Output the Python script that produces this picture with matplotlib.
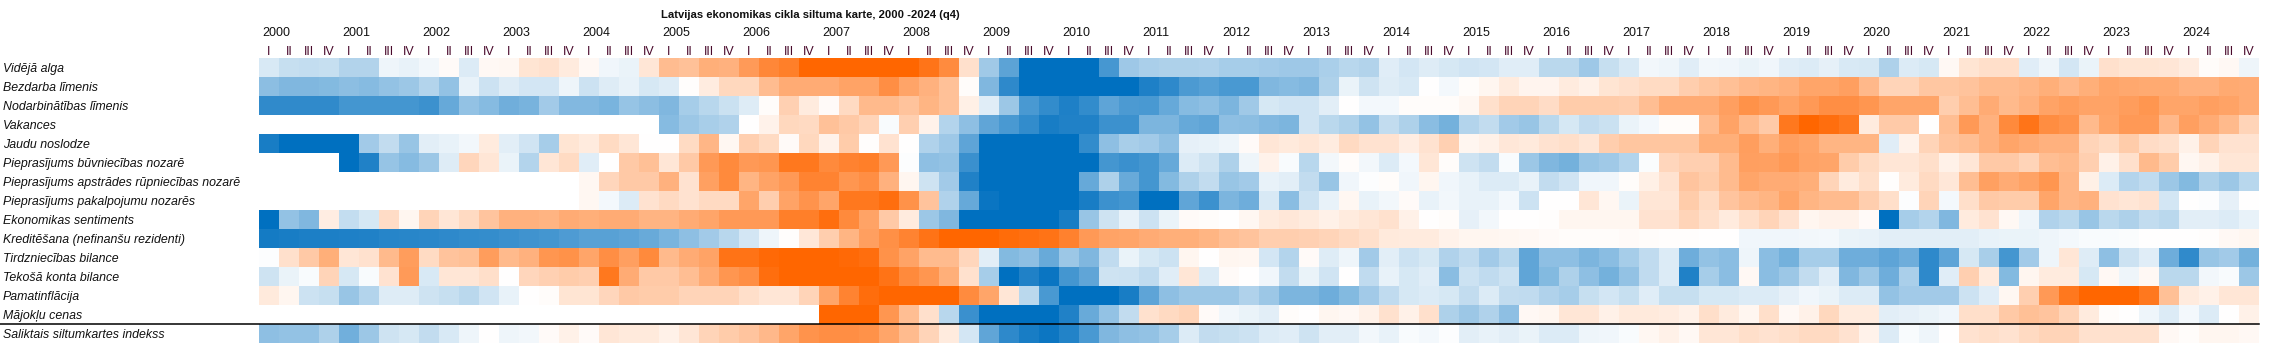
import numpy as np
import matplotlib
matplotlib.use("Agg")
import matplotlib.pyplot as plt
from matplotlib.colors import LinearSegmentedColormap
from matplotlib.lines import Line2D
from matplotlib import font_manager as fm

nan = np.nan

title = "Latvijas ekonomikas cikla siltuma karte, 2000 -2024 (q4)"
row_labels = [
    "Vidējā alga", "Bezdarba līmenis", "Nodarbinātības līmenis", "Vakances",
    "Jaudu noslodze", "Pieprasījums būvniecības nozarē",
    "Pieprasījums apstrādes rūpniecības nozarē", "Pieprasījums pakalpojumu nozarēs",
    "Ekonomikas sentiments", "Kreditēšana (nefinanšu rezidenti)",
    "Tirdzniecības bilance", "Tekošā konta bilance", "Pamatinflācija",
    "Mājokļu cenas", "Saliktais siltumkartes indekss",
]
years = list(range(2000, 2025))
quarters = ["I", "II", "III", "IV"]

# values on a -10 (cold) ... +10 (hot) scale, 2000Q1 ... 2024Q4
vid_alga = [-1.5, -2.2, -2.3, -2.2, -3.0, -3.0, -0.7, -0.9, -0.5, 0.3, -1.4, 0.4, 0.5, 1.7, 1.9, 1.3, 0.4,
            -0.6, -0.8, 1.6, 4.3, 4.0, 5.2, 5.0, 6.5, 7.8, 8.3, 10, 10, 10, 10, 10, 10, 9.0,
            7.5, 2.0, -3.7, -6.4, -10, -10, -10, -10, -7.2, -3.8, -3.3, -3.2, -3.2, -3.1, -3.5, -3.5, -3.6,
            -3.8, -3.8, -3.3, -2.8, -3.0, -1.2, -1.7, -1.3, -1.6, -1.8, -1.7, -1.2, -1.2, -2.7, -2.7, -3.8, -2.2,
            -1.5, -0.5, -0.7, -1.2, -0.5, -0.6, -0.8, -0.6, -1.2, -1.4, -1.0, -1.5, -1.6, -3.2, -1.4, -1.6, 0.4,
            1.7, 2.1, 2.1, -1.2, -0.7, -1.7, -0.8, 2.0, 1.7, 1.7, 1.6, 1.2, 0.2, 0.4, -0.7]
bezdarbs = [-4.5, -5.0, -5.0, -4.8, -4.5, -4.7, -4.2, -3.9, -2.9, -4.2, -0.9, -2.0, -1.3, -1.7, -1.7, -0.7, -2.0,
            -1.3, -0.9, -1.6, -1.3, 0.1, 1.2, 2.5, 2.5, 4.3, 5.4, 5.4, 5.4, 6.0, 6.0, 7.3, 5.9, 5.0,
            4.0, 0.2, -5.0, -8.2, -10, -10, -10, -10, -10, -10, -8.8, -8.2, -7.0, -6.6, -7.1, -7.1, -5.0,
            -4.7, -5.0, -3.2, -0.8, -1.9, -1.3, -1.5, 0.0, -0.4, 0.2, 0.6, 1.3, 0.7, 0.7, 1.3, 0.9, 1.7,
            2.0, 2.3, 2.3, 3.2, 3.7, 4.1, 4.6, 4.8, 5.1, 5.8, 5.8, 6.2, 4.6, 2.8, 2.8, 3.6, 3.6,
            3.9, 4.4, 4.4, 4.7, 5.2, 4.6, 5.2, 5.8, 5.7, 5.5, 5.5, 5.0, 5.0, 5.5, 5.4]
nodarb = [-8.1, -8.1, -8.1, -8.1, -7.3, -7.3, -7.3, -7.3, -7.6, -6.0, -4.2, -4.7, -5.6, -5.3, -3.6, -4.9, -4.9,
          -5.2, -4.1, -4.5, -5.0, -3.5, -2.8, -2.1, -1.3, 0.2, 3.0, 1.3, 0.3, 2.4, 4.5, 4.5, 3.9, 4.8,
          4.0, 1.0, -1.2, -3.9, -7.1, -8.0, -8.8, -8.0, -6.3, -7.0, -7.1, -6.0, -4.7, -4.4, -5.1, -3.7, -1.6,
          -1.8, -1.8, -1.1, 0.0, -0.4, -0.4, 0.2, 0.2, 0.2, 0.5, 2.0, 2.8, 2.8, 2.2, 3.3, 3.3, 3.3,
          3.2, 4.2, 5.4, 5.4, 5.4, 6.2, 7.1, 6.6, 6.0, 6.6, 7.3, 7.3, 6.8, 5.8, 5.8, 5.8, 3.2,
          4.2, 5.4, 4.5, 5.0, 6.0, 6.4, 6.0, 6.0, 6.4, 6.8, 5.8, 5.8, 6.2, 6.0, 5.4]
vakances = [nan] * 20 + [
          -4.7, -3.9, -3.4, -3.1, 0.0, 0.8, 2.5, 2.4, 4.0, 3.5, 2.8, -0.3, 3.1, 0.8,
          -2.9, -4.4, -6.2, -7.1, -8.0, -9.0, -8.7, -8.7, -7.6, -7.6, -5.1, -5.1, -6.0, -6.2, -4.4, -4.5, -4.9,
          -5.1, -1.8, -2.7, -3.2, -4.2, -2.4, -3.2, -4.6, -5.4, -2.9, -2.4, -3.6, -4.0, -2.7, -1.6, -2.4, -2.1,
          -0.8, -0.4, 0.2, 0.2, 4.3, 6.0, 4.5, 3.4, 8.8, 10, 9.4, 8.8, 1.3, 3.4, 3.4, 0.0, 4.2,
          6.6, 5.0, 7.6, 9.0, 7.4, 7.0, 4.5, 5.8, 6.6, 6.6, 4.6, 6.2, 5.4, 4.5, 2.8]
jaudu = [-9.0, -10, -10, -10, -10, -3.6, -2.4, -4.0, -1.1, -0.9, -0.5, 1.3, -1.1, -1.8, -3.5, 1.7, 1.3,
         2.3, 1.6, 0.0, 0.0, 2.3, 4.7, 0.5, 3.1, 2.3, 0.3, 2.5, 0.8, 3.3, 0.1, 1.8, 0.0, -3.1,
         -3.8, -6.3, -10, -10, -10, -10, -10, -8.0, -4.4, -3.4, -3.6, -4.3, -1.0, -0.9, -0.7, 0.3, 1.6,
         1.4, 1.6, 1.2, 2.4, 1.8, 1.8, 1.1, 1.8, 3.0, 0.6, 0.9, 1.5, 1.4, 1.8, 2.1, 1.6, 3.2,
         3.7, 3.7, 3.7, 3.7, 5.2, 5.2, 6.3, 5.2, 6.2, 5.8, 4.8, 4.8, 4.8, -1.2, 0.8, 2.8, 3.9,
         4.2, 5.0, 5.8, 5.4, 5.0, 5.0, 2.8, 2.3, 3.3, 2.2, 2.0, 0.9, 2.8, 1.8, 1.8]
buvn = [nan] * 4 + [
        -10, -8.7, -4.1, -4.7, -3.9, -1.3, 2.6, 1.6, -0.8, -2.9, 1.6, 2.3, -1.2,
        0.0, 3.5, 4.1, 1.6, 3.5, 6.6, 7.6, 6.6, 6.8, 8.8, 8.8, 7.6, 8.1, 8.3, 6.6, -0.1, -4.4,
        -4.2, -7.7, -10, -10, -10, -10, -10, -10, -7.3, -7.7, -7.3, -6.0, -1.4, -1.9, -3.2, -0.7, 0.8,
        -0.3, -2.8, -0.5, 0.2, -0.5, -1.4, -0.4, 1.6, 0.2, -1.9, -2.4, -0.3, -3.9, -5.0, -5.4, -4.0, -3.7,
        -2.9, -0.2, 2.6, 3.1, 3.1, 4.4, 6.2, 6.1, 6.6, 6.0, 5.8, 3.3, 2.3, 1.6, 1.6, 2.1, 0.9,
        1.6, 3.5, 3.5, 2.8, 4.2, 4.5, 3.1, 0.9, 2.0, 4.5, 3.3, 0.5, 0.9, 1.6, 1.6]
apstr = [nan] * 16 + [
         0.5,
         2.6, 3.5, 3.5, 5.0, 1.8, 6.1, 7.6, 4.8, 6.0, 6.6, 8.0, 8.0, 6.8, 7.3, 5.0, 0.6, -1.9,
         -3.6, -8.7, -10, -10, -10, -10, -10, -6.0, -3.2, -5.9, -7.3, -4.8, -3.2, -2.4, -4.0, -3.6, -0.9,
         -1.1, -2.4, -4.0, -0.6, -0.1, 0.2, -0.6, 0.6, -0.6, -0.9, -1.4, -1.4, -0.9, -2.4, -1.8, -0.6, -0.6,
         0.2, 1.0, 1.8, 3.8, 3.3, 4.4, 5.8, 5.4, 5.4, 5.2, 2.8, 1.3, 2.1, 0.1, 1.3, 2.4, 1.5,
         4.2, 6.1, 5.4, 6.0, 6.8, 4.7, 1.0, -1.4, -2.9, -2.5, -3.9, -4.8, -3.2, -3.9, -2.8]
pakalp = [nan] * 16 + [
          0.5,
          -0.4, -1.4, 1.8, 2.4, 1.8, 2.4, 2.4, 5.8, 3.2, 6.0, 7.0, 5.8, 8.8, 8.8, 9.4, 7.1, 3.9,
          -3.1, -6.0, -9.6, -10, -10, -10, -10, -9.0, -7.6, -7.3, -10, -10, -6.2, -7.6, -5.1, -5.7, -1.5,
          -4.6, -2.0, -0.9, 0.5, -0.9, -0.5, 0.3, -0.9, -0.5, -0.9, -0.9, -0.4, -2.0, 0.0, 0.0, 1.6, 0.5,
          -0.8, 1.6, 1.6, 3.3, 2.3, 3.8, 4.4, 4.8, 5.8, 4.8, 4.4, 4.4, 3.2, 2.1, -0.1, 2.8, -0.4,
          2.1, 3.5, 3.3, 3.3, 5.8, 4.7, 5.0, 1.8, 1.6, 1.8, -1.7, 0.0, -0.1, -1.0, 0.0]
sentiment = [-10, -4.2, -5.0, 1.1, -2.3, -1.6, 2.2, 0.6, 2.8, 1.6, 2.4, 3.8, 5.0, 5.0, 4.9, 5.4, 5.2,
             5.4, 5.4, 4.9, 4.9, 5.4, 5.8, 6.6, 6.6, 6.6, 8.3, 8.3, 9.4, 7.6, 6.0, 3.5, 1.3, -3.9,
             -5.0, -10, -10, -10, -10, -10, -9.0, -4.0, -1.9, -0.9, -2.0, -0.8, 0.3, 0.2, 0.0, 0.5, 1.3,
             1.5, 1.3, 0.9, 1.3, 1.6, 1.9, 0.9, 0.0, 0.2, -1.0, -0.5, 0.0, 0.0, 0.1, 0.6, 0.6, 0.6,
             0.6, 1.8, 1.8, 2.8, 2.1, 1.3, 2.1, 2.8, 1.8, 0.6, 0.8, 0.8, 0.3, -10, -3.5, -2.9, -5.0,
             1.3, 1.8, 0.4, -0.7, -3.1, -2.7, -4.0, -2.7, -3.2, -2.4, -2.7, -1.1, -1.1, -1.4, -0.9]
kredit = [-9.2, -9.0, -8.9, -8.9, -8.8, -8.7, -8.5, -8.4, -8.3, -8.2, -8.0, -7.9, -7.7, -7.5, -7.3, -6.9, -6.5,
          -6.5, -6.3, -5.9, -5.2, -4.4, -3.6, -2.8, -1.7, -0.7, 0.1, 1.5, 3.2, 4.8, 6.2, 7.2, 8.0, 9.1,
          10, 10, 10, 9.6, 9.3, 9.1, 8.2, 6.6, 6.0, 5.8, 5.4, 5.2, 5.2, 4.8, 4.2, 3.9, 3.2,
          3.2, 3.0, 2.8, 2.4, 2.0, 1.4, 1.3, 1.3, 0.8, 0.6, 0.6, 0.5, 0.4, 0.3, 0.2, 0.2, 0.2,
          0.3, 0.2, 0.1, 0.1, 0.05, 0.05, -0.6, -0.6, -0.6, -0.5, -0.4, -0.8, -0.9, -1.1, -1.1, -1.1, -1.1,
          -1.1, -0.9, -0.8, -0.8, -0.7, -0.4, -0.3, -0.3, -0.2, 0.0, 0.0, 0.0, 0.1, 0.4, 0.6]
tirdz = [-0.1, 2.0, 3.5, 5.2, 1.6, 1.9, 4.5, 6.4, 2.3, 3.9, 4.1, 6.4, 4.5, 5.0, 6.8, 7.1, 5.8,
         7.3, 6.2, 7.6, 4.5, 5.4, 6.0, 9.1, 9.1, 9.7, 10, 10, 10, 9.7, 9.4, 7.1, 6.0, 4.4,
         4.4, 2.6, -1.1, -4.8, -4.4, -5.9, -3.9, -5.0, -2.5, -0.8, -1.6, -2.0, 0.6, 0.0, 0.6, 0.5, -1.7,
         -2.9, 0.3, -1.3, -0.7, -3.6, -1.1, -2.0, -1.6, -3.1, -2.5, -3.6, -2.8, -6.2, -4.4, -4.4, -5.1, -4.6,
         -3.5, -2.5, -1.4, -5.7, -4.2, -4.6, -0.7, -4.6, -5.4, -3.5, -3.5, -5.7, -5.7, -6.3, -5.7, -8.2, -6.3,
         -1.6, -3.4, -7.3, -3.6, -0.7, 1.6, -1.3, -4.4, -2.0, -1.2, -5.7, -8.1, -4.0, -3.6, -5.4]
tekosais = [-1.9, -0.8, -0.3, 2.8, -1.6, -0.3, 1.8, 6.5, -1.5, 1.6, 1.6, 2.1, 0.0, 2.6, 3.0, 3.3, 3.1,
            8.8, 5.4, 3.5, 3.5, 4.2, 5.4, 6.8, 7.3, 9.4, 10, 10, 10, 10, 10, 9.1, 7.6, 6.8,
            5.2, 1.9, -3.5, -10, -8.7, -9.6, -7.3, -6.2, -1.9, -2.0, -2.5, -1.2, 1.6, -1.4, 0.3, 0.0, -0.6,
            -2.4, -0.8, -1.8, 0.0, -2.5, -0.9, -1.6, -1.2, -4.6, -2.0, -2.5, -2.0, -6.2, -4.8, -3.2, -4.4, -5.4,
            -4.2, -2.5, -1.4, -8.7, -3.5, -4.6, 0.4, -4.6, -3.9, -2.4, -1.2, -5.0, -3.9, -5.7, -3.3, -8.2, -1.2,
            3.1, 1.3, -4.8, 0.6, 1.3, 1.3, -1.6, 0.4, -0.7, 0.4, -2.7, -2.7, -0.5, -0.3, -3.9]
pamatinfl = [1.4, 0.6, -2.0, -2.2, -4.0, -2.9, -1.3, -1.3, -1.9, -2.2, -2.7, -1.8, -0.9, 0.0, 0.2, 1.7, 1.7,
             2.6, 3.5, 3.3, 3.3, 2.8, 2.8, 2.8, 2.1, 1.6, 1.6, 2.8, 5.8, 8.0, 9.5, 10, 10, 10,
             10, 7.5, 5.8, 1.6, -2.7, -7.1, -10, -10, -10, -9.0, -6.3, -4.4, -3.9, -3.9, -3.9, -3.1, -3.9,
             -5.1, -5.1, -5.7, -4.8, -3.6, -2.5, -1.6, -1.4, -1.6, -2.4, -1.4, -2.4, -2.5, -3.1, -3.5, -2.2, -1.7,
             -2.2, -1.2, -2.2, -2.2, -1.6, -1.6, -1.4, -1.4, -1.0, -0.6, -0.8, -1.4, -1.4, -4.2, -3.6, -3.6, -3.6,
             -2.0, -1.2, 0.5, 3.1, 6.6, 8.8, 10, 10, 10, 8.8, 4.1, 1.3, 0.9, 1.6, 1.6]
majokli = [nan] * 28 + [
           10, 10, 10, 6.8, 4.2, 2.0,
           -2.8, -7.7, -10, -10, -10, -10, -8.7, -5.9, -4.2, -2.4, 1.9, 2.4, 2.8, 0.3, -0.5, -0.8, -1.1,
           0.2, 0.0, 0.6, 0.4, 0.9, 1.9, 0.9, 2.0, -3.2, -3.9, -3.1, -4.4, 0.4, 0.6, 1.6, 1.6, 0.9,
           1.4, 1.4, 1.2, 0.9, 2.1, 1.3, 0.6, 2.1, 0.4, 0.9, 2.5, 1.3, 1.3, -1.1, -1.0, -0.8, -0.6,
           2.1, 2.1, 3.5, 4.1, 3.8, 2.8, 1.3, 0.2, 0.0, -0.7, -1.4, -0.4, -1.4, 0.0, 0.9]
salikt = [-4.4, -4.2, -4.2, -3.2, -5.5, -3.9, -1.9, -1.6, -2.4, -1.5, -0.7, 0.0, -0.7, -0.5, 0.3, 0.9, 0.3,
          1.6, 1.4, 1.4, 0.9, 1.6, 2.8, 3.3, 3.8, 4.6, 5.8, 7.0, 7.3, 7.3, 7.1, 5.8, 4.4, 2.8,
          1.3, -1.7, -6.2, -8.2, -9.0, -9.5, -8.6, -7.1, -5.0, -4.4, -4.2, -3.5, -1.4, -2.4, -2.2, -2.0, -1.4,
          -1.2, -1.9, -1.1, -1.1, -0.5, -0.9, -0.3, -0.4, -0.1, -1.1, -0.9, -1.1, -0.8, -1.4, -1.4, -0.7, -0.6,
          -0.3, 0.5, 0.9, 0.4, 1.6, 1.6, 2.1, 1.8, 2.1, 2.4, 2.4, 1.8, 0.8, -1.4, -0.3, -0.7, 0.0,
          1.8, 2.1, 1.8, 2.4, 2.8, 2.8, 1.9, 1.9, 1.9, 1.9, 0.4, 0.2, 0.6, 0.6, 0.4]

rows = [vid_alga, bezdarbs, nodarb, vakances, jaudu, buvn, apstr, pakalp,
        sentiment, kredit, tirdz, tekosais, pamatinfl, majokli, salikt]
data = np.array(rows, dtype=float)
n_rows, n_cols = data.shape

# ---------- fonts ----------
names = {f.name for f in fm.fontManager.ttflist}
base_font = "Liberation Sans" if "Liberation Sans" in names else "DejaVu Sans"
narrow = "Liberation Sans Narrow" if "Liberation Sans Narrow" in names else None

# ---------- figure ----------
W, H = 2274, 357
fig = plt.figure(figsize=(W / 100, H / 100), dpi=100)
L, R, T, B = 259, 2259, 58, 343
ax = fig.add_axes([L / W, 1 - B / H, (R - L) / W, (B - T) / H])
cmap = LinearSegmentedColormap.from_list("heat", ["#0070C0", "#FFFFFF", "#FF6600"])
cmap.set_bad("white")
ax.imshow(np.ma.masked_invalid(data), cmap=cmap, vmin=-10, vmax=10,
          aspect="auto", interpolation="nearest")
ax.set_axis_off()

def fx(px):
    return px / W

def fy(py):
    return 1 - py / H

cell_w = (R - L) / n_cols
cell_h = (B - T) / n_rows

# row labels
for i, lab in enumerate(row_labels):
    yb = T + cell_h * i + cell_h / 2 + 4.3
    fig.text(fx(3), fy(yb), lab, fontsize=8.9, fontstyle="italic",
             family=base_font, ha="left", va="baseline", color="#111111")

# year labels
for k, yr in enumerate(years):
    fig.text(fx(L + 4 * cell_w * k + 3), fy(36), str(yr), fontsize=9,
             family=base_font, ha="left", va="baseline", color="#111111")

# quarter labels
for c in range(n_cols):
    fig.text(fx(L + cell_w * c + cell_w / 2), fy(54.7), quarters[c % 4], fontsize=9,
             family=base_font, ha="center", va="baseline", color="#4a0a2c")

# title
if narrow:
    fig.text(fx(810), fy(18), title, fontsize=10, fontweight="bold",
             family=narrow, ha="center", va="baseline", color="#111111")
else:
    fig.text(fx(810), fy(18), title, fontsize=8.1, fontweight="bold",
             family=base_font, ha="center", va="baseline", color="#111111")

# separator above composite index
ysep = T + cell_h * (n_rows - 1)
fig.add_artist(Line2D([0, fx(R)], [fy(ysep), fy(ysep)], color="black", lw=1.1,
                      transform=fig.transFigure))

fig.savefig("out.png", dpi=100, facecolor="white")
